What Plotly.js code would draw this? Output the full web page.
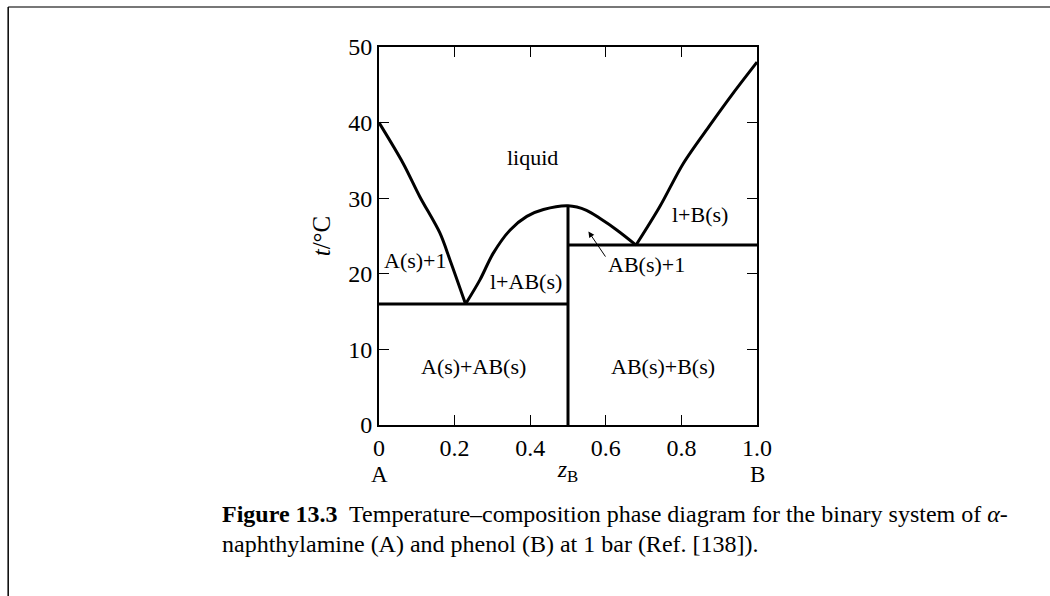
<!DOCTYPE html>
<html>
<head>
<meta charset="utf-8">
<script src="https://cdn.plot.ly/plotly-3.0.1.min.js"></script>
<style>
html,body{margin:0;padding:0;background:#fff;}
#chart{width:1050px;height:596px;}
</style>
</head>
<body>
<div id="chart"></div>
<script>
// Liquidus of A (alpha-naphthylamine)
const liqA_x = [0, 0.064, 0.108, 0.161, 0.188, 0.229];
const liqA_t = [40, 34.6, 30.2, 25.4, 21.8, 16];
// Liquidus of compound AB
const liqAB_x = [0.229, 0.267, 0.302, 0.347, 0.391, 0.435, 0.5, 0.549, 0.585, 0.629, 0.68];
const liqAB_t = [16, 19.2, 22.7, 25.8, 27.6, 28.5, 29.0, 28.4, 27.3, 25.8, 23.8];
// Liquidus of B (phenol)
const liqB_x = [0.68, 0.743, 0.805, 0.876, 0.937, 1.0];
const liqB_t = [23.8, 28.9, 34.6, 39.7, 43.9, 48];
// Eutectic / compound lines
const eut1_x = [0, 0.5];  const eut1_t = [16, 16];
const eut2_x = [0.5, 1.0]; const eut2_t = [23.8, 23.8];
const comp_x = [0.5, 0.5]; const comp_t = [0, 29.0];

// Region labels
const labelText = ["liquid", "A(s)+1", "l+AB(s)", "l+B(s)", "A(s)+AB(s)", "AB(s)+B(s)", "AB(s)+1"];
const labelX = [0.405, 0.097, 0.388, 0.849, 0.249, 0.750, 0.708];
const labelT = [35.4, 21.7, 19.0, 27.8, 7.8, 7.8, 21.2];
// Arrow (tail -> head)
const arrowTail = [0.611, 21.4];
const arrowHead = [0.554, 25.6];

const xTicks = [0, 0.2, 0.4, 0.6, 0.8, 1.0];
const xTickText = ["0", "0.2", "0.4", "0.6", "0.8", "1.0"];
const yTicks = [0, 10, 20, 30, 40, 50];

const serif = "Liberation Serif, Times New Roman, serif";
const lineStyle = {color: "#000", width: 3};
const splineStyle = {color: "#000", width: 3, shape: "spline", smoothing: 0.9};

const traces = [
  {x: liqA_x, y: liqA_t, mode: "lines", line: splineStyle},
  {x: liqAB_x, y: liqAB_t, mode: "lines", line: splineStyle},
  {x: liqB_x, y: liqB_t, mode: "lines", line: splineStyle},
  {x: eut1_x, y: eut1_t, mode: "lines", line: lineStyle},
  {x: eut2_x, y: eut2_t, mode: "lines", line: lineStyle},
  {x: comp_x, y: comp_t, mode: "lines", line: lineStyle}
].map(t => Object.assign({showlegend: false, hoverinfo: "skip", cliponaxis: false}, t));

const annotations = labelText.map((t, i) => ({
  x: labelX[i], y: labelT[i], xref: "x", yref: "y", text: t, showarrow: false,
  xanchor: "center", yanchor: "middle",
  font: {family: serif, size: 22, color: "#000"}
}));
annotations.push({
  x: arrowHead[0], y: arrowHead[1], ax: arrowTail[0], ay: arrowTail[1],
  xref: "x", yref: "y", axref: "x", ayref: "y", text: " ", showarrow: true,
  arrowhead: 2, arrowsize: 1.2, arrowwidth: 1, arrowcolor: "#000"
});
annotations.push({x: 0, y: -0.13, xref: "paper", yref: "paper", text: "A", showarrow: false,
  xanchor: "center", yanchor: "middle",
  font: {family: serif, size: 23, color: "#000"}});
annotations.push({x: 1, y: -0.13, xref: "paper", yref: "paper", text: "B", showarrow: false,
  xanchor: "center", yanchor: "middle",
  font: {family: serif, size: 23, color: "#000"}});
// Caption
annotations.push({x: -0.4206, y: -0.235, xref: "paper", yref: "paper", xanchor: "left", yanchor: "middle",
  text: "<b>Figure 13.3</b>  Temperature–composition phase diagram for the binary system of <i>α</i>-",
  showarrow: false, font: {family: serif, size: 24, color: "#000"}});
annotations.push({x: -0.4206, y: -0.315, xref: "paper", yref: "paper", xanchor: "left", yanchor: "middle",
  text: "naphthylamine (A) and phenol (B) at 1 bar (Ref. [138]).",
  showarrow: false, font: {family: serif, size: 24, color: "#000"}});

const layout = {
  width: 1050, height: 596,
  margin: {l: 379, r: 293, t: 47, b: 171},
  paper_bgcolor: "#fff", plot_bgcolor: "#fff",
  font: {family: serif, size: 24, color: "#000"},
  xaxis: {
    range: [0, 1], tickvals: xTicks, ticktext: xTickText,
    ticks: "inside", ticklen: 10, tickwidth: 1.2, tickcolor: "#000",
    showline: true, linecolor: "#000", linewidth: 2, mirror: "ticks",
    showgrid: false, zeroline: false, fixedrange: true,
    tickfont: {family: serif, size: 24, color: "#000"},
    title: {text: "<i>z</i><sub>B</sub>", standoff: 0, font: {family: serif, size: 24, color: "#000"}}
  },
  yaxis: {
    range: [0, 50], tickvals: yTicks,
    ticks: "inside", ticklen: 10, tickwidth: 1.2, tickcolor: "#000",
    showline: true, linecolor: "#000", linewidth: 2, mirror: "ticks",
    showgrid: false, zeroline: false, fixedrange: true,
    tickfont: {family: serif, size: 24, color: "#000"},
    title: {text: "<i>t</i>/°C", standoff: 10, font: {family: serif, size: 25, color: "#000"}}
  },
  annotations: annotations,
  shapes: [
    {type: "line", xref: "paper", yref: "paper", x0: -0.981, x1: 1.78, y0: 1.106, y1: 1.106,
     line: {color: "#777", width: 2}},
    {type: "line", xref: "paper", yref: "paper", x0: -0.981, x1: -0.981, y0: 1.106, y1: -0.46,
     line: {color: "#000", width: 1.5}}
  ]
};

Plotly.newPlot("chart", traces, layout, {displayModeBar: false, staticPlot: true});
</script>
</body>
</html>
